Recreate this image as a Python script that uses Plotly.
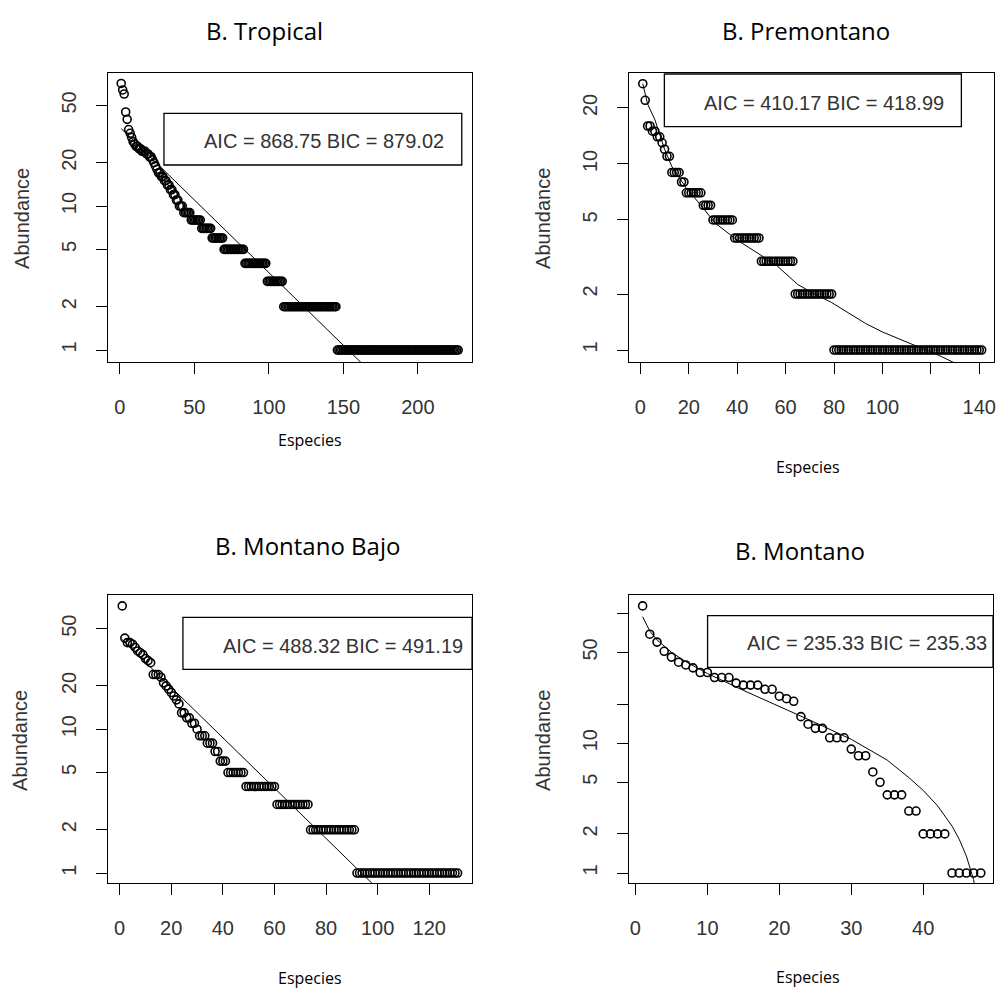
import plotly.graph_objects as go

W, H = 998, 995

# ---------------- data ----------------
# B. Tropical: rank-abundance (head values, then runs of equal abundance)
trop_head = [71, 64, 60, 45, 40, 34, 32, 30, 28, 27, 26, 26, 25, 25, 24, 24, 24, 23, 23, 22,
             22, 21, 20, 19, 18, 17, 17, 16, 16, 15, 15, 14, 14, 13, 13, 12, 12, 11, 11, 10,
             10, 10, 9, 9, 9, 9, 9]
trop_levels = [8, 7, 6, 5, 4, 3, 2, 1]
trop_counts = [7, 7, 8, 14, 15, 11, 36, 82]
trop_fit_rank = [1, 227]
trop_fit_val = [34.5, 0.18]

# B. Premontano
prem_head = [27, 22, 16, 16, 15, 15, 14, 14, 13, 12, 11, 11, 9, 9, 9, 9, 8, 8]
prem_levels = [7, 6, 5, 4, 3, 2, 1]
prem_counts = [7, 4, 9, 11, 14, 16, 62]
prem_fit_rank = [1, 3, 6, 10, 13, 19, 25, 31, 40, 48, 56, 65, 72, 79, 86, 93, 100, 112, 123, 130, 141]
prem_fit_val = [27, 21, 17.3, 12, 9.7, 7.4, 6.0, 4.8, 3.9, 3.35, 2.87, 2.25, 2.0, 1.8, 1.58, 1.39,
                1.25, 1.08, 0.94, 0.85, 0.74]

# B. Montano Bajo
mbajo_head = [72, 43, 40, 40, 39, 37, 35, 34, 33, 31, 30, 29, 24, 24, 24, 23, 21, 20, 19, 18,
              17, 16, 15, 13, 13, 12, 12, 11, 11, 10, 9, 9, 9, 8, 8, 8, 7, 7]
mbajo_levels = [6, 5, 4, 3, 2, 1]
mbajo_counts = [3, 7, 12, 13, 18, 40]
mbajo_fit_rank = [1, 131]
mbajo_fit_val = [42, 0.223]

# B. Montano
mont_vals = [114, 69, 60, 51, 46, 42, 40, 38, 35, 35, 32, 32, 32, 29, 28, 28, 28, 26, 26, 23,
             22, 21, 16, 14, 13, 13, 11, 11, 11, 9, 8, 8, 6, 5, 4, 4, 4, 3, 3, 2,
             2, 2, 2, 1, 1, 1, 1, 1]
mont_fit_rank = [1, 2, 3, 5, 7, 10, 15, 20, 25, 30, 35, 38, 40, 42, 44, 45, 46, 47, 48]
mont_fit_val = [94.1, 73.0, 62.4, 50.1, 42.4, 34.4, 25.5, 19.2, 14.4, 10.7, 7.4, 5.43, 4.33,
                3.29, 2.30, 1.82, 1.35, 0.89, 0.44]

titles = ["B. Tropical", "B. Premontano", "B. Montano Bajo", "B. Montano"]
stats = ["AIC = 868.75 BIC = 879.02", "AIC = 410.17 BIC = 418.99",
         "AIC = 488.32 BIC = 491.19", "AIC = 235.33 BIC = 235.33"]

x_ticks = [[0, 50, 100, 150, 200], [0, 20, 40, 60, 80, 100, 120, 140],
           [0, 20, 40, 60, 80, 100, 120], [0, 10, 20, 30, 40]]
x_ticktext = [["0", "50", "100", "150", "200"], ["0", "20", "40", "60", "80", "100", "", "140"],
              ["0", "20", "40", "60", "80", "100", "120"], ["0", "10", "20", "30", "40"]]
y_ticks = [[1, 2, 5, 10, 20, 50], [1, 2, 5, 10, 20], [1, 2, 5, 10, 20, 50],
           [1, 2, 5, 10, 20, 50, 100]]
y_ticktext = [["1", "2", "5", "10", "20", "50"], ["1", "2", "5", "10", "20"],
              ["1", "2", "5", "10", "20", "50"], ["1", "2", "5", "10", "", "50", ""]]


def expand(head, levels, counts):
    out = list(head)
    for lv, c in zip(levels, counts):
        out += [lv] * c
    return out


abund = [expand(trop_head, trop_levels, trop_counts),
         expand(prem_head, prem_levels, prem_counts),
         expand(mbajo_head, mbajo_levels, mbajo_counts),
         list(mont_vals)]
fits = [(trop_fit_rank, trop_fit_val), (prem_fit_rank, prem_fit_val),
        (mbajo_fit_rank, mbajo_fit_val), (mont_fit_rank, mont_fit_val)]

# ---------------- layout geometry (pixels) ----------------
boxes = [(108, 73, 473, 362), (630, 73, 996, 362), (108, 595, 473, 883), (630, 595, 995, 883)]
x_ranges = [[-8.0, 236.3], [-4.8, 146.1], [-4.6, 136.6], [-0.93, 49.7]]
y_ranges = [[-0.083, 1.924], [-0.0645, 1.489], [-0.069, 1.933], [-0.077, 2.141]]

fig = go.Figure()
tick_font = dict(family="Liberation Sans, Arial", size=20, color="#333")

for i in range(4):
    xa = "x" if i == 0 else f"x{i+1}"
    ya = "y" if i == 0 else f"y{i+1}"
    vals = abund[i]
    ranks = list(range(1, len(vals) + 1))
    fig.add_trace(go.Scatter(
        x=ranks, y=vals, mode="markers", xaxis=xa, yaxis=ya,
        marker=dict(symbol="circle-open", size=8, color="black", line=dict(width=1.6, color="black")),
        showlegend=False, hoverinfo="skip"))
    fr, fv = fits[i]
    fig.add_trace(go.Scatter(
        x=fr, y=fv, mode="lines", xaxis=xa, yaxis=ya,
        line=dict(color="black", width=1), showlegend=False, hoverinfo="skip"))

    x0, y0, x1, y1 = boxes[i]
    xd = [x0 / W, x1 / W]
    yd = [1 - y1 / H, 1 - y0 / H]
    common = dict(showline=True, mirror=True, linecolor="black", linewidth=1.2,
                  ticks="outside", ticklen=11, tickwidth=1.2, tickcolor="black",
                  showgrid=False, zeroline=False, tickfont=tick_font)
    key = "" if i == 0 else str(i + 1)
    fig.update_layout(**{
        f"xaxis{key}": dict(domain=xd, range=x_ranges[i], anchor=ya,
                            tickmode="array", tickvals=x_ticks[i], ticktext=x_ticktext[i],
                            ticklabelstandoff=16, **common),
        f"yaxis{key}": dict(domain=yd, range=y_ranges[i], type="log", anchor=xa,
                            tickmode="array", tickvals=y_ticks[i], ticktext=y_ticktext[i],
                            tickangle=-90, ticklabelstandoff=12, **common),
    })

# ---------------- annotations & legend boxes ----------------
def px(x):
    return x / W


def py(y):
    return 1 - y / H


ann = []
title_pos = [(265, 30), (808, 30), (308, 545), (802, 550)]
for t, (x, y) in zip(titles, title_pos):
    ann.append(dict(text=t, x=px(x), y=py(y), xref="paper", yref="paper", showarrow=False,
                    xanchor="center", yanchor="middle",
                    font=dict(family="Open Sans", size=24, color="black")))

esp_pos = [(311, 440), (810, 467), (311, 978), (810, 977)]
for (x, y) in esp_pos:
    ann.append(dict(text="Especies", x=px(x), y=py(y), xref="paper", yref="paper", showarrow=False,
                    xanchor="center", yanchor="middle",
                    font=dict(family="Open Sans", size=16, color="black")))

ab_pos = [(22, 218), (544, 218), (20, 740), (544, 740)]
for (x, y) in ab_pos:
    ann.append(dict(text="Abundance", x=px(x), y=py(y), xref="paper", yref="paper", showarrow=False,
                    xanchor="center", yanchor="middle", textangle=-90,
                    font=dict(family="Liberation Sans, Arial", size=20, color="#333")))

leg_boxes = [(164.3, 113.3, 462.7, 165), (665.7, 74, 963.3, 126.7),
             (183.3, 617.3, 473, 669.3), (709, 615.7, 995, 667.3)]
leg_text = [(202.7, 141), (703.3, 103), (221.7, 646), (746.7, 643)]
shapes = []
for (a, b, c, d), (tx, ty), s in zip(leg_boxes, leg_text, stats):
    shapes.append(dict(type="rect", xref="paper", yref="paper", x0=px(a), x1=px(c), y0=py(d), y1=py(b),
                       line=dict(color="black", width=1.3), fillcolor="rgba(0,0,0,0)"))
    ann.append(dict(text=s, x=px(tx), y=py(ty), xref="paper", yref="paper", showarrow=False,
                    xanchor="left", yanchor="middle",
                    font=dict(family="Liberation Sans, Arial", size=20, color="#333")))

fig.update_layout(width=W, height=H, margin=dict(l=0, r=0, t=0, b=0),
                  paper_bgcolor="white", plot_bgcolor="white",
                  annotations=ann, shapes=shapes)

fig.write_html("out.html")
